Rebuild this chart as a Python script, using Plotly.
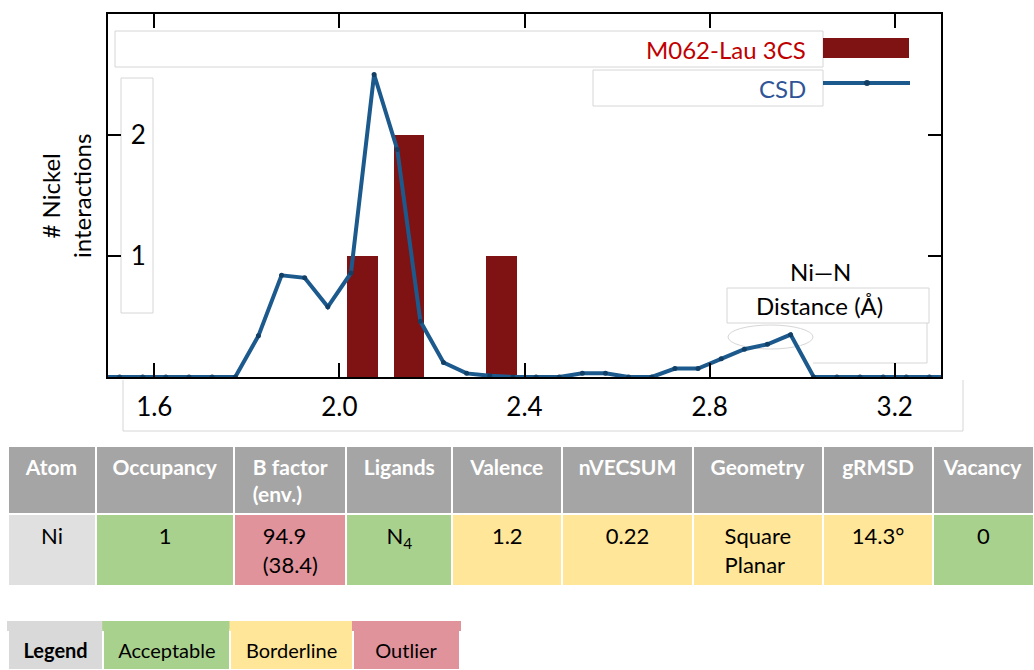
import plotly.graph_objects as go

# ---- Ni–N distance distribution -------------------------------------------
bin_centers = [1.475, 1.525, 1.575, 1.625, 1.675, 1.725, 1.775, 1.825, 1.875,
               1.925, 1.975, 2.025, 2.075, 2.125, 2.175, 2.225, 2.275, 2.325,
               2.375, 2.425, 2.475, 2.525, 2.575, 2.625, 2.675, 2.725, 2.775,
               2.825, 2.875, 2.925, 2.975, 3.025, 3.075, 3.125, 3.175, 3.225,
               3.275, 3.325]
csd_counts = [0, 0, 0, 0, 0, 0, 0, 0.34, 0.84,
              0.82, 0.58, 0.86, 2.5, 1.88, 0.46, 0.12, 0.03, 0.01,
              0, 0, 0, 0.03, 0.03, 0, 0, 0.07, 0.07,
              0.15, 0.23, 0.27, 0.35, 0, 0, 0, 0, 0,
              0, 0]

model_distances = [2.05, 2.15, 2.35]
model_counts = [1, 2, 1]

x_tick_vals = [1.6, 2.0, 2.4, 2.8, 3.2]
x_tick_text = ["1.6", "2.0", "2.4", "2.8", "3.2"]
y_tick_vals = [1, 2]
y_tick_text = ["1", "2"]

model_name = "M062-Lau 3CS"
csd_name = "CSD"

# ---- validation summary -----------------------------------------------------
table_columns = ["Atom", "Occupancy", "B factor<br>(env.)", "Ligands", "Valence",
                 "nVECSUM", "Geometry", "gRMSD", "Vacancy"]
table_values = ["Ni", "1", "94.9<br>(38.4)", "N<sub>4</sub>", "1.2", "0.22",
                "Square<br>Planar", "14.3°", "0"]
table_status = ["Label", "Acceptable", "Outlier", "Acceptable", "Borderline",
                "Borderline", "Borderline", "Borderline", "Acceptable"]
legend_title = "Legend"
legend_labels = ["Acceptable", "Borderline", "Outlier"]

# ---- styling ----------------------------------------------------------------
W, H = 1034, 670
FONT = "Lato"
BAR_COLOR = "#7f1212"
LINE_COLOR = "#1c5a8d"
MARKER_COLOR = "#123f66"
BOX_LINE = "#d6d6d6"
status_fill = {
    "Label": "#e0e0e0",
    "Acceptable": "#a9d18e",
    "Borderline": "#ffe699",
    "Outlier": "#e1939b",
}
key_fill = ["#d9d9d9"] + [status_fill[s] for s in legend_labels]


def px(x):
    return x / W


def py(y):
    return 1 - y / H


def bold(label):
    return "<br>".join(f"<b>{part}</b>" for part in label.split("<br>"))


def block(text):
    # every cell goes through the multi-line layout so that all rows share one baseline
    return text if "<br>" in text else text + "<br>"


fig = go.Figure()

fig.add_trace(go.Bar(
    x=model_distances, y=model_counts, width=0.066, name=model_name,
    marker=dict(color=BAR_COLOR, line=dict(width=0)),
))
fig.add_trace(go.Scatter(
    x=bin_centers, y=csd_counts, name=csd_name, mode="lines+markers",
    line=dict(color=LINE_COLOR, width=4),
    marker=dict(color=MARKER_COLOR, size=5),
))

# summary table
fig.add_trace(go.Table(
    domain=dict(x=[px(8), 1], y=[py(600), py(446)]),
    columnwidth=[88, 138.5, 112, 106, 110, 130.5, 130.5, 110, 101],
    header=dict(
        values=[bold(c) for c in table_columns],
        fill=dict(color="#a5a5a5"),
        font=dict(family=FONT, size=21, color="white"),
        align="center", height=68,
        line=dict(color="white", width=2),
    ),
    cells=dict(
        values=[[block(v)] for v in table_values],
        fill=dict(color=[status_fill[s] for s in table_status]),
        font=dict(family=FONT, size=22, color="black"),
        align="center", height=69,
        line=dict(color="white", width=2),
    ),
))

# colour key: a thin header band in the key colours, labels in the row below
fig.add_trace(go.Table(
    domain=dict(x=[px(8), px(460)], y=[0, py(622)]),
    columnwidth=[95, 127, 122, 107],
    header=dict(
        values=["", "", "", ""],
        fill=dict(color=key_fill),
        font=dict(family=FONT, size=4, color="black"),
        height=8,
        line=dict(color=key_fill, width=2),
    ),
    cells=dict(
        values=[[block(bold(legend_title))]] + [[block(s)] for s in legend_labels],
        fill=dict(color=key_fill),
        font=dict(family=FONT, size=20, color="black"),
        align="center", height=40,
        line=dict(color="white", width=2),
    ),
))

shapes = [
    # label boxes
    dict(type="rect", x0=px(115), x1=px(823), y0=py(31), y1=py(67)),
    dict(type="rect", x0=px(593), x1=px(823), y0=py(70), y1=py(106)),
    dict(type="rect", x0=px(121), x1=px(153), y0=py(78), y1=py(313)),
    dict(type="rect", x0=px(727), x1=px(929), y0=py(288), y1=py(323)),
    dict(type="path",
         path=f"M {px(927)} {py(323)} L {px(927)} {py(363)} L {px(813)} {py(363)}"),
    dict(type="circle", x0=px(728), x1=px(813), y0=py(325), y1=py(349)),
    dict(type="path",
         path=f"M {px(123)} {py(380)} L {px(123)} {py(431)} L {px(963)} {py(431)} L {px(963)} {py(380)}"),
]
for s in shapes:
    s.update(xref="paper", yref="paper", layer="below",
             line=dict(color=BOX_LINE, width=1))
    if s["type"] == "rect":
        s["fillcolor"] = "white"

# legend keys
shapes += [
    dict(type="rect", xref="paper", yref="paper", x0=px(823), x1=px(909),
         y0=py(38), y1=py(58), fillcolor=BAR_COLOR, line=dict(width=0)),
    dict(type="line", xref="paper", yref="paper", x0=px(823), x1=px(910),
         y0=py(83), y1=py(83), line=dict(color=LINE_COLOR, width=4)),
    dict(type="circle", xref="paper", yref="paper", x0=px(864), x1=px(870),
         y0=py(80), y1=py(86), fillcolor=MARKER_COLOR, line=dict(width=0)),
]

annotations = [
    dict(text=model_name, x=px(808), y=py(49), xanchor="right", yanchor="middle",
         font=dict(family=FONT, size=24, color="#c00000")),
    dict(text=csd_name, x=px(808), y=py(88), xanchor="right", yanchor="middle",
         font=dict(family=FONT, size=24, color="#2f5597")),
    dict(text="# Nickel<br>interactions", x=px(66), y=py(196), textangle=-90,
         xanchor="center", yanchor="middle",
         font=dict(family=FONT, size=24, color="black")),
    dict(text="Ni—N", x=px(820), y=py(271), xanchor="center", yanchor="middle",
         font=dict(family=FONT, size=24, color="black")),
    dict(text="Distance (Å)", x=px(819), y=py(305), xanchor="center",
         yanchor="middle", font=dict(family=FONT, size=24, color="black")),
]
for a in annotations:
    a.update(xref="paper", yref="paper", showarrow=False)

fig.update_layout(
    width=W, height=H,
    margin=dict(l=0, r=0, t=0, b=0),
    paper_bgcolor="white", plot_bgcolor="white",
    showlegend=False, bargap=0,
    font=dict(family=FONT, color="black"),
    shapes=shapes, annotations=annotations,
    xaxis=dict(
        domain=[px(108), px(941)], range=[1.5, 3.3],
        tickvals=x_tick_vals, ticktext=x_tick_text,
        ticks="inside", ticklen=14, tickwidth=2, tickcolor="black",
        showline=True, linecolor="black", linewidth=2, mirror="ticks",
        showgrid=False, zeroline=False,
        tickfont=dict(family=FONT, size=26, color="black"),
        ticklabelstandoff=6,
    ),
    yaxis=dict(
        domain=[py(377), py(14)], range=[0, 3],
        tickvals=y_tick_vals, ticktext=y_tick_text,
        ticks="inside", ticklen=13, tickwidth=2, tickcolor="black",
        ticklabelposition="inside", ticklabelstandoff=12,
        showline=True, linecolor="black", linewidth=2, mirror="ticks",
        showgrid=False, zeroline=False,
        tickfont=dict(family=FONT, size=26, color="black"),
    ),
)

fig.write_html("out.html")
